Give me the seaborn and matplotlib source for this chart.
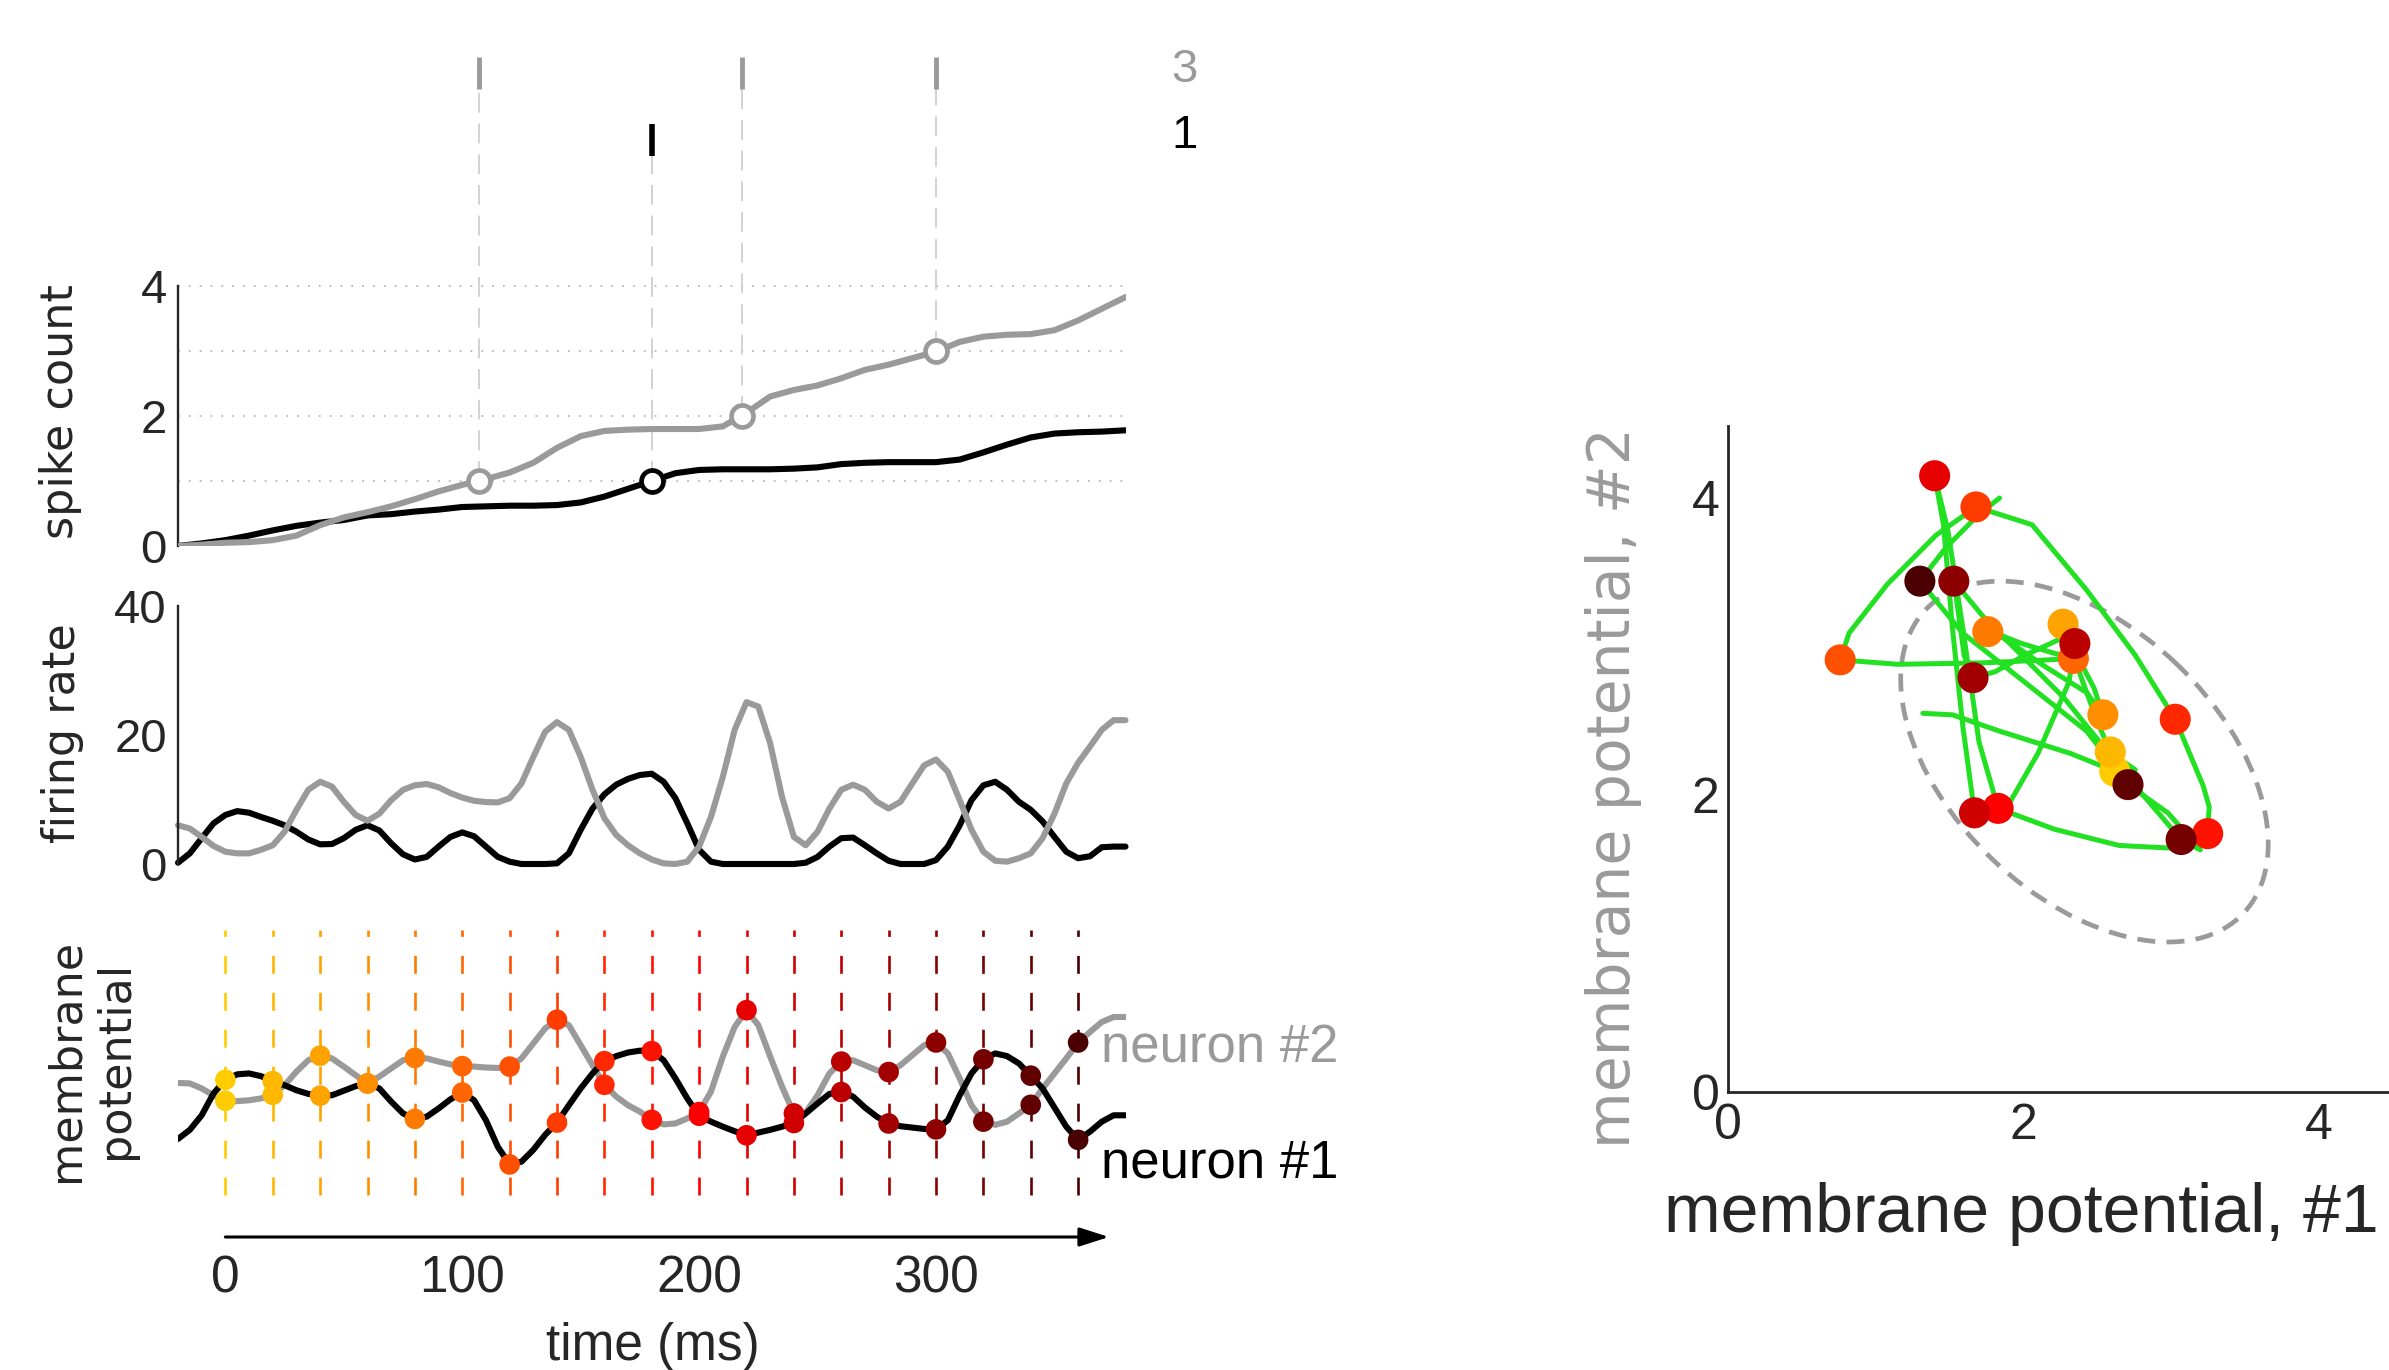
import numpy as np
import matplotlib
matplotlib.use("Agg")
import matplotlib.pyplot as plt
from matplotlib.colors import LinearSegmentedColormap, Normalize
from matplotlib.patches import Ellipse
import seaborn as sns

# ---------------- data ----------------
t_count = np.arange(-20, 381, 10)
count_n1 = [0.0, 0.04, 0.09, 0.16, 0.24, 0.31, 0.36, 0.40, 0.47, 0.49, 0.53,
            0.56, 0.60, 0.61, 0.62, 0.62, 0.63, 0.67, 0.76, 0.88, 1.00, 1.12,
            1.17, 1.18, 1.18, 1.18, 1.19, 1.21, 1.26, 1.28, 1.29, 1.29, 1.29,
            1.33, 1.44, 1.56, 1.67, 1.73, 1.75, 1.76, 1.78]
count_n2 = [0.0, 0.02, 0.05, 0.06, 0.09, 0.16, 0.32, 0.44, 0.52, 0.61, 0.72,
            0.84, 0.94, 1.03, 1.13, 1.28, 1.51, 1.69, 1.77, 1.79, 1.80, 1.80,
            1.80, 1.84, 2.05, 2.30, 2.40, 2.47, 2.58, 2.71, 2.79, 2.89, 2.99,
            3.14, 3.22, 3.25, 3.26, 3.32, 3.47, 3.65, 3.83]
spikes_n1 = [180]
spikes_n2 = [107, 218, 300]

t_rate = np.arange(-20, 381, 5)
rate_n1 = [0.2, 1.65, 4.0, 6.3, 7.6, 8.2, 7.95, 7.3, 6.7, 6.0, 5.0, 3.8, 3.05,
           3.1, 4.0, 5.3, 6.0, 5.2, 3.2, 1.5, 0.7, 1.1, 2.7, 4.2, 4.9, 4.3,
           2.7, 1.1, 0.36, 0.0, 0.0, 0.0, 0.1, 1.65, 5.3, 8.6, 10.8, 12.3,
           13.2, 13.8, 14.0, 12.75, 10.2, 6.3, 2.2, 0.36, 0.0, 0.0, 0.0, 0.0,
           0.0, 0.0, 0.0, 0.2, 1.1, 2.7, 4.0, 4.1, 2.9, 1.65, 0.5, 0.0, 0.0,
           0.0, 0.6, 2.7, 6.0, 9.9, 12.2, 12.75, 11.5, 9.65, 8.4, 6.6, 4.2,
           1.9, 0.9, 1.2, 2.6, 2.7, 2.7]
rate_n2 = [6.0, 5.5, 4.2, 2.8, 1.9, 1.65, 1.65, 2.2, 2.9, 5.0, 8.4, 11.5,
           12.75, 12.0, 9.65, 7.6, 6.7, 7.8, 9.9, 11.5, 12.2, 12.4, 11.9,
           11.0, 10.3, 9.8, 9.6, 9.55, 10.2, 12.5, 16.6, 20.5, 22.0, 20.8,
           16.6, 11.5, 7.1, 4.5, 2.9, 1.65, 0.7, 0.1, 0.0, 0.36, 2.7, 7.3,
           13.5, 20.8, 25.1, 24.4, 18.7, 10.4, 4.2, 2.9, 5.0, 8.6, 11.5, 12.3,
           11.5, 9.65, 8.6, 9.65, 12.5, 15.3, 16.2, 14.3, 9.9, 5.3, 1.9, 0.5,
           0.36, 0.9, 1.65, 4.0, 7.8, 12.5, 15.7, 18.2, 20.8, 22.3, 22.3]

t_vm = np.arange(-20, 381, 5)
vm_n1 = [1.32, 1.52, 1.84, 2.32, 2.62, 2.74, 2.76, 2.70, 2.59, 2.50, 2.39,
         2.31, 2.27, 2.28, 2.38, 2.48, 2.54, 2.43, 2.14, 1.88, 1.76, 1.81,
         1.99, 2.19, 2.34, 2.17, 1.73, 1.15, 0.76, 0.82, 1.08, 1.41, 1.68,
         2.06, 2.43, 2.76, 3.03, 3.14, 3.22, 3.26, 3.25, 3.05, 2.65, 2.21,
         1.83, 1.70, 1.59, 1.49, 1.40, 1.46, 1.52, 1.59, 1.67, 1.88, 2.10,
         2.31, 2.35, 2.25, 2.01, 1.81, 1.66, 1.60, 1.57, 1.54, 1.53, 1.73,
         2.28, 2.76, 3.07, 3.20, 3.14, 2.98, 2.71, 2.43, 2.01, 1.59, 1.30,
         1.48, 1.70, 1.84, 1.84]
vm_n2 = [2.55, 2.54, 2.43, 2.28, 2.16, 2.15, 2.17, 2.21, 2.29, 2.50, 2.80,
         3.05, 3.15, 3.09, 2.91, 2.72, 2.54, 2.69, 2.87, 3.05, 3.10, 3.09,
         3.02, 2.96, 2.92, 2.91, 2.89, 2.88, 2.91, 3.09, 3.42, 3.75, 3.94,
         3.82, 3.38, 2.94, 2.51, 2.25, 2.06, 1.92, 1.74, 1.64, 1.66, 1.77,
         1.91, 2.36, 3.13, 3.78, 4.15, 3.82, 3.13, 2.47, 1.88, 1.90, 2.28,
         2.76, 3.02, 3.05, 2.94, 2.83, 2.79, 2.94, 3.16, 3.38, 3.44, 3.20,
         2.65, 2.06, 1.70, 1.63, 1.70, 1.88, 2.07, 2.43, 2.76, 3.09, 3.44,
         3.67, 3.89, 4.00, 4.00]

sample_times = np.arange(0, 361, 20)

ellipse_center = (2.415, 2.225)
ellipse_cov = [[1.55, -0.69], [-0.69, 1.476]]

# ---------------- style ----------------
sns.set_style("white")
plt.rcParams["font.family"] = ["Liberation Sans", "DejaVu Sans"]
plt.rcParams["axes.linewidth"] = 1.7

W, H, DPI = 2389, 1370, 100
fig = plt.figure(figsize=(W / DPI, H / DPI), dpi=DPI)


def rect(x0, y0, x1, y1):
    return [x0 / W, 1 - y1 / H, (x1 - x0) / W, (y1 - y0) / H]


GRAY = "#9a9a9a"
GREEN = "#22e022"
cmap = LinearSegmentedColormap.from_list(
    "timecol", [(0.0, "#ffcc00"), (0.55, "#ff0000"), (1.0, "#4a0000")])
norm = Normalize(sample_times.min(), sample_times.max())
XL = (-20, 380)
LW = 4.4

t_vm = np.asarray(t_vm)
vm_n1 = np.asarray(vm_n1)
vm_n2 = np.asarray(vm_n2)
smask = np.isin(t_vm, sample_times)
s_n1 = vm_n1[smask]
s_n2 = vm_n2[smask]


def line(ax, x, y, color, lw, **kw):
    sns.lineplot(x=x, y=y, ax=ax, color=color, sort=False, estimator=None,
                 **kw)
    ln = ax.get_lines()[-1]
    ln.set_linewidth(lw)
    ln.set_solid_capstyle("round")
    ln.set_solid_joinstyle("round")
    return ln


# ---------------- spike count + raster ----------------
ax1 = fig.add_axes(rect(178, 32.5, 1125.5, 546))
ax1.set_xlim(*XL)
ax1.set_ylim(0, 7.9)
ax1.hlines([1, 2, 3, 4], XL[0], XL[1], colors="#b8b8b8", linewidth=1.3,
           linestyles=(0, (1, 5)), zorder=1)
ax1.vlines(spikes_n2, np.arange(1, len(spikes_n2) + 1), 7.03, colors="#cfcfcf",
           linewidth=1.3, linestyles=(0, (11, 6)), zorder=1)
ax1.vlines(spikes_n1, np.arange(1, len(spikes_n1) + 1), 6.0, colors="#cfcfcf",
           linewidth=1.3, linestyles=(0, (11, 6)), zorder=1)
ax1.vlines(spikes_n2, 7.03, 7.52, colors=GRAY, linewidth=3.5, clip_on=False)
ax1.vlines(spikes_n1, 6.0, 6.5, colors="black", linewidth=4.0, clip_on=False)
ax1.text(405, 7.14, str(len(spikes_n2)), color=GRAY, fontsize=34,
         ha="center", va="baseline")
ax1.text(405, 6.12, str(len(spikes_n1)), color="black", fontsize=34,
         ha="center", va="baseline")
line(ax1, t_count, count_n1, "black", LW, zorder=3)
line(ax1, t_count, count_n2, GRAY, LW, zorder=3)
sns.scatterplot(x=spikes_n2, y=np.arange(1, len(spikes_n2) + 1), ax=ax1,
                color="white", edgecolor=GRAY, linewidth=3.4, s=250, zorder=5)
sns.scatterplot(x=spikes_n1, y=np.arange(1, len(spikes_n1) + 1), ax=ax1,
                color="white", edgecolor="black", linewidth=3.4, s=250,
                zorder=5)
ax1.set_yticks([0, 2, 4])
ax1.set_xticks([])
sns.despine(ax=ax1, bottom=True)
ax1.spines["left"].set_bounds(0, 4)
ax1.tick_params(axis="y", direction="in", length=6, width=1.7, pad=8,
                labelsize=34)
ax1.set_xlabel("")
ax1.set_ylabel("")

# ---------------- firing rate ----------------
ax2 = fig.add_axes(rect(178, 606, 1125.5, 864))
ax2.set_xlim(*XL)
ax2.set_ylim(0, 40)
line(ax2, t_rate, rate_n1, "black", LW, clip_on=False)
line(ax2, t_rate, rate_n2, GRAY, LW, clip_on=False)
ax2.set_yticks([0, 20, 40])
ax2.set_xticks([])
sns.despine(ax=ax2, bottom=True)
ax2.tick_params(axis="y", direction="in", length=6, width=1.7, pad=8,
                labelsize=34)
ax2.set_xlabel("")
ax2.set_ylabel("")

# ---------------- membrane potential ----------------
ax3 = fig.add_axes(rect(178, 926, 1125.5, 1199))
ax3.set_xlim(*XL)
ax3.set_ylim(0, 6)
ax3.vlines(sample_times, 0.09, 5.91, colors=cmap(norm(sample_times)),
           linewidth=1.9, linestyles=(0, (6.8, 7.2)), zorder=1)
line(ax3, t_vm, vm_n2, GRAY, LW, zorder=2)
line(ax3, t_vm, vm_n1, "black", LW, zorder=3)
sns.scatterplot(x=sample_times, y=s_n2, hue=sample_times, palette=cmap,
                hue_norm=norm, ax=ax3, s=220, linewidth=0, legend=False,
                zorder=4)
sns.scatterplot(x=sample_times, y=s_n1, hue=sample_times, palette=cmap,
                hue_norm=norm, ax=ax3, s=220, linewidth=0, legend=False,
                zorder=4)
ax3.text(369.6, 3.01, "neuron #2", color=GRAY, fontsize=38, ha="left",
         va="baseline")
ax3.text(369.6, 0.48, "neuron #1", color="black", fontsize=38, ha="left",
         va="baseline")
ax3.axis("off")

# ---------------- time axis ----------------
ax4 = fig.add_axes(rect(178, 1217, 1125.5, 1237))
ax4.set_xlim(*XL)
ax4.set_ylim(0, 1)
for s in ax4.spines.values():
    s.set_visible(False)
ax4.set_yticks([])
ax4.set_xticks([0, 100, 200, 300])
ax4.tick_params(axis="x", direction="out", length=6.5, width=1.6, pad=6,
                labelsize=37)
ax4.annotate("", xy=(373, 0), xytext=(0, 0),
             xycoords=("data", "axes fraction"),
             textcoords=("data", "axes fraction"),
             arrowprops=dict(arrowstyle="-|>,head_length=0.5,head_width=0.16",
                             color="black", linewidth=2.2, mutation_scale=36,
                             shrinkA=0, shrinkB=0))
fig.text(653 / W, 1 - 1360 / H, "time (ms)", fontsize=37, ha="center",
         va="baseline")

# left y labels
fig.text(61 / W, 1 - 411 / H, "spike count", rotation=90, fontsize=32,
         family="DejaVu Sans", ha="center", va="center")
fig.text(62 / W, 1 - 733 / H, "firing rate", rotation=90, fontsize=32,
         family="DejaVu Sans", ha="center", va="center")
fig.text(91 / W, 1 - 1060 / H, "membrane\npotential", rotation=90,
         fontsize=32, family="DejaVu Sans", ha="center", va="center",
         multialignment="center")

# ---------------- right panel: joint membrane potentials ----------------
ax5 = fig.add_axes(rect(1728, 426, 2389, 1092))
ax5.set_xlim(0, 661 / 147.6)
ax5.set_ylim(0, 666 / 148.5)
vals, vecs = np.linalg.eigh(np.asarray(ellipse_cov))
ang = np.degrees(np.arctan2(vecs[1, -1], vecs[0, -1]))
ell = Ellipse(ellipse_center, 2 * np.sqrt(vals[-1]), 2 * np.sqrt(vals[0]),
              angle=ang, fill=False, edgecolor=GRAY, linewidth=3.4,
              linestyle=(0, (3.8, 2.4)), zorder=1)
ax5.add_patch(ell)
line(ax5, vm_n1, vm_n2, GREEN, 3.6, zorder=2)
sns.scatterplot(x=s_n1, y=s_n2, hue=sample_times, palette=cmap,
                hue_norm=norm, ax=ax5, s=500, linewidth=0, legend=False,
                zorder=4)
ax5.set_xticks([0, 1, 2, 3, 4])
ax5.set_xticklabels(["0", "", "2", "", "4"])
ax5.set_yticks([0, 2, 4])
sns.despine(ax=ax5)
for s in ("left", "bottom"):
    ax5.spines[s].set_linewidth(2.0)
ax5.tick_params(axis="both", direction="in", length=6, width=1.7,
                labelsize=36)
ax5.tick_params(axis="x", pad=8)
ax5.tick_params(axis="y", pad=6)
ax5.set_xlabel("")
ax5.set_ylabel("")
fig.text(1664 / W, 1 - 1232 / H, "membrane potential, #1", fontsize=49,
         ha="left", va="baseline")
fig.text(1613 / W, 1 - 788 / H, "membrane potential, #2", rotation=90,
         fontsize=42, family="DejaVu Sans", color=GRAY, ha="center",
         va="center")

fig.savefig("out.png", dpi=DPI)
